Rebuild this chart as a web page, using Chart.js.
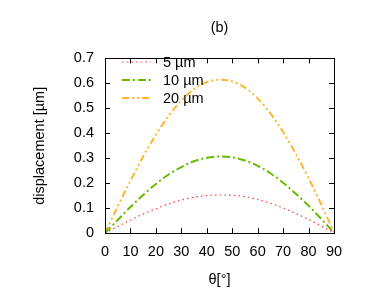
<!DOCTYPE html>
<html>
<head>
<meta charset="utf-8">
<script src="https://cdn.jsdelivr.net/npm/chart.js@4/dist/chart.umd.min.js"></script>
<style>
html,body{margin:0;padding:0;background:#fff;}
#wrap{width:390px;height:289px;}
</style>
</head>
<body>
<div id="wrap"><canvas id="c" width="390" height="289"></canvas></div>
<script>
const theta = [0,5,10,15,20,25,30,35,40,45,50,55,60,65,70,75,80,85,90];
const series5 = [0,0.027,0.052,0.077,0.098,0.117,0.133,0.144,0.151,0.153,0.152,0.146,0.135,0.120,0.101,0.079,0.055,0.029,0.001];
const series10 = [0,0.053,0.105,0.153,0.197,0.235,0.265,0.288,0.302,0.307,0.304,0.291,0.270,0.240,0.202,0.158,0.110,0.057,0.002];
const series20 = [0,0.107,0.210,0.307,0.394,0.470,0.531,0.577,0.605,0.615,0.608,0.583,0.540,0.480,0.405,0.318,0.220,0.115,0.004];
const labels = ['5 µm','10 µm','20 µm'];
const xTicks = [0,10,20,30,40,50,60,70,80,90];
const yTicks = [0,0.1,0.2,0.3,0.4,0.5,0.6,0.7];

const FONT = 'Liberation Sans, Arial, sans-serif';
const FS = 14.5;
const styles = [
  {color:'#ff3b3b', dash:[1.5,3.2], width:1.2},
  {color:'#6ab800', dash:[8,3,2,3], width:2},
  {color:'#ffb52e', dash:[7,3,2,3,2,3], width:2}
];
const seriesList = [series5, series10, series20];

const datasets = seriesList.map((s,i)=>({
  label: labels[i],
  data: theta.map((t,j)=>({x:t,y:s[j]})),
  borderColor: styles[i].color,
  borderDash: styles[i].dash,
  borderWidth: styles[i].width,
  pointRadius: 0,
  tension: 0.4,
  cubicInterpolationMode: 'monotone',
  fill: false
}));

const frame = {
  id:'frame',
  afterDraw(chart){
    const {ctx, chartArea:a, scales:{x,y}} = chart;
    ctx.save();
    ctx.strokeStyle = '#000';
    ctx.lineWidth = 1;
    ctx.setLineDash([]);
    ctx.strokeRect(Math.round(a.left)+0.5, Math.round(a.top)+0.5, Math.round(a.right-a.left), Math.round(a.bottom-a.top));
    const tl = 5;
    ctx.beginPath();
    xTicks.forEach(v=>{
      const px = Math.round(x.getPixelForValue(v))+0.5;
      ctx.moveTo(px,a.bottom); ctx.lineTo(px,a.bottom-tl);
      ctx.moveTo(px,a.top); ctx.lineTo(px,a.top+tl);
    });
    yTicks.forEach(v=>{
      const py = Math.round(y.getPixelForValue(v))+0.5;
      ctx.moveTo(a.left,py); ctx.lineTo(a.left+tl,py);
      ctx.moveTo(a.right,py); ctx.lineTo(a.right-tl,py);
    });
    ctx.stroke();
    // legend
    const rows = [62,80,98];
    ctx.font = FS + 'px ' + FONT;
    ctx.textBaseline = 'middle';
    ctx.textAlign = 'left';
    datasets.forEach((d,i)=>{
      ctx.strokeStyle = styles[i].color;
      ctx.lineWidth = styles[i].width;
      ctx.setLineDash(styles[i].dash);
      ctx.beginPath();
      ctx.moveTo(122, rows[i]); ctx.lineTo(151, rows[i]);
      ctx.stroke();
      ctx.setLineDash([]);
      ctx.fillStyle = '#000';
      ctx.fillText(d.label, 163, rows[i]+1);
    });
    ctx.restore();
  }
};

new Chart(document.getElementById('c'), {
  type:'line',
  data:{datasets},
  options:{
    responsive:false,
    animation:false,
    devicePixelRatio:1,
    layout:{padding:{left:0,right:56,top:0,bottom:0}},
    plugins:{
      legend:{display:false},
      tooltip:{enabled:false},
      title:{display:true,text:'(b)',fullSize:false,color:'#000',font:{family:FONT,size:FS,weight:'normal'},padding:{top:19,bottom:22}}
    },
    scales:{
      x:{
        type:'linear', min:0, max:90,
        afterBuildTicks(s){ s.ticks = xTicks.map(v=>({value:v})); },
        grid:{display:false, drawTicks:false},
        border:{display:false},
        ticks:{color:'#000',font:{family:FONT,size:FS},padding:10,maxRotation:0,autoSkip:false},
        title:{display:true,text:'θ[°]',color:'#000',font:{family:FONT,size:FS},padding:{top:1,bottom:0}}
      },
      y:{
        type:'linear', min:0, max:0.7,
        afterBuildTicks(s){ s.ticks = yTicks.map(v=>({value:v})); },
        afterFit(s){ s.width = 105; },
        grid:{display:false, drawTicks:false},
        border:{display:false},
        ticks:{color:'#000',font:{family:FONT,size:FS},padding:11,autoSkip:false,callback:v=>String(Math.round(v*10)/10)},
        title:{display:true,text:'displacement [µm]',color:'#000',font:{family:FONT,size:FS},padding:{top:31,bottom:0}}
      }
    }
  },
  plugins:[frame]
});
</script>
</body>
</html>
